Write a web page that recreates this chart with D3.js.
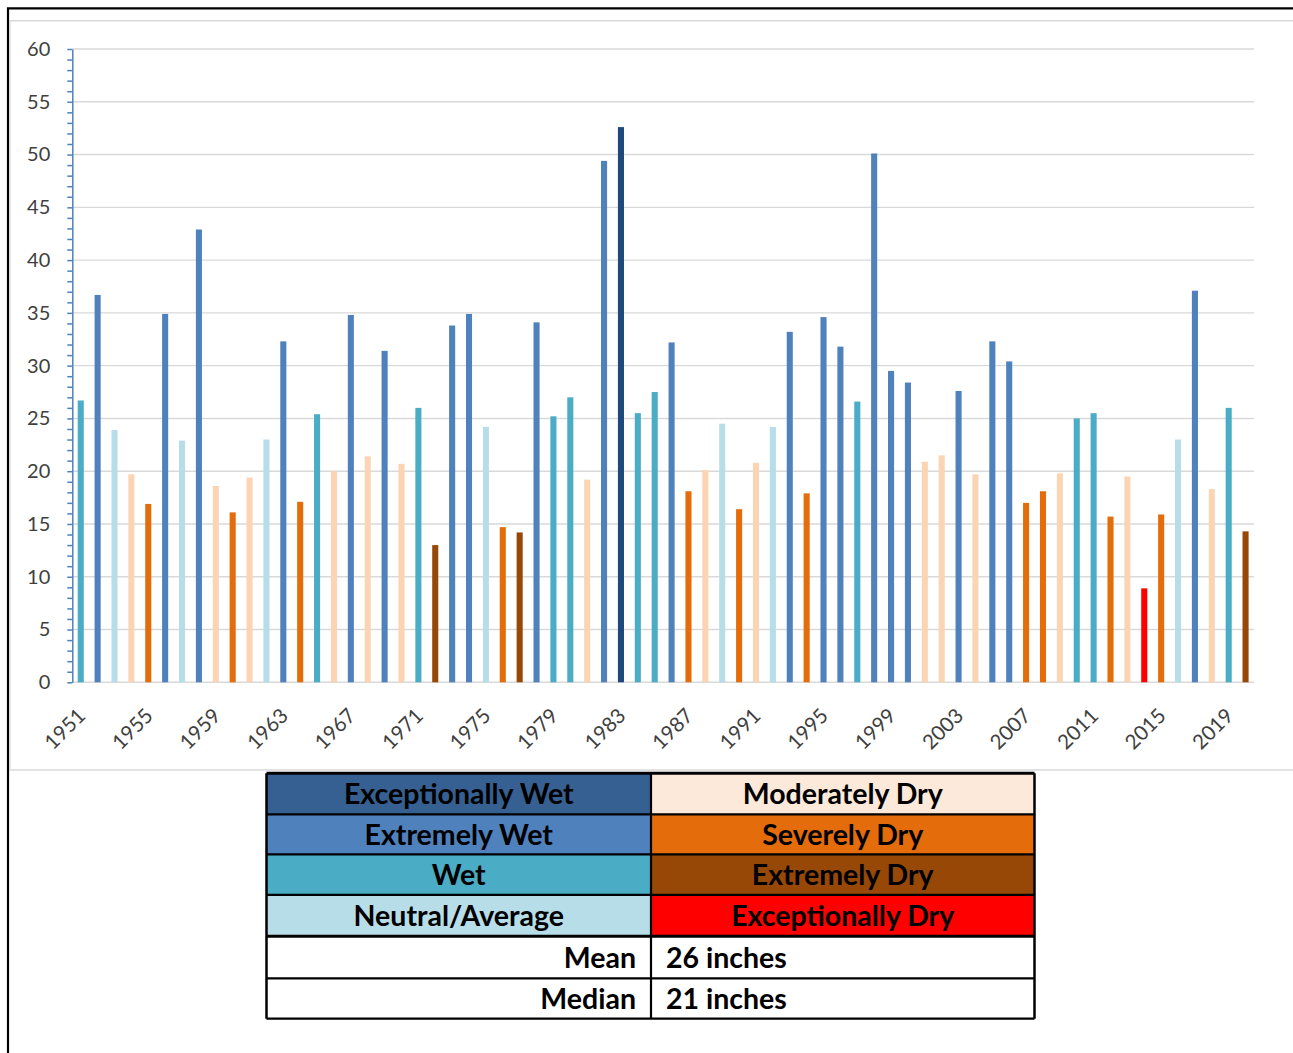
<!DOCTYPE html>
<html>
<head>
<meta charset="utf-8">
<script src="https://cdn.jsdelivr.net/npm/d3@7"></script>
<style>
    body { margin: 0; background: #fff; }
    svg { display: block; }
</style>
</head>
<body>
<div id="precipChart"></div>
<script>
// Annual precipitation (inches) and drought/wet category per year
var years = d3.range(1951, 2021);

var precip = [
    26.7, 36.7, 23.9, 19.7, 16.9, 34.9, 22.9, 42.9, 18.6, 16.1,
    19.4, 23.0, 32.3, 17.1, 25.4, 20.0, 34.8, 21.4, 31.4, 20.7,
    26.0, 13.0, 33.8, 34.9, 24.2, 14.7, 14.2, 34.1, 25.2, 27.0,
    19.2, 49.4, 52.6, 25.5, 27.5, 32.2, 18.1, 20.1, 24.5, 16.4,
    20.8, 24.2, 33.2, 17.9, 34.6, 31.8, 26.6, 50.1, 29.5, 28.4,
    20.9, 21.5, 27.6, 19.7, 32.3, 30.4, 17.0, 18.1, 19.8, 25.0,
    25.5, 15.7, 19.5, 8.9, 15.9, 23.0, 37.1, 18.3, 26.0, 14.3
];

var categories = [
    "Wet", "Extremely Wet", "Neutral/Average", "Moderately Dry", "Severely Dry",
    "Extremely Wet", "Neutral/Average", "Extremely Wet", "Moderately Dry", "Severely Dry",
    "Moderately Dry", "Neutral/Average", "Extremely Wet", "Severely Dry", "Wet",
    "Moderately Dry", "Extremely Wet", "Moderately Dry", "Extremely Wet", "Moderately Dry",
    "Wet", "Extremely Dry", "Extremely Wet", "Extremely Wet", "Neutral/Average",
    "Severely Dry", "Extremely Dry", "Extremely Wet", "Wet", "Wet",
    "Moderately Dry", "Extremely Wet", "Exceptionally Wet", "Wet", "Wet",
    "Extremely Wet", "Severely Dry", "Moderately Dry", "Neutral/Average", "Severely Dry",
    "Moderately Dry", "Neutral/Average", "Extremely Wet", "Severely Dry", "Extremely Wet",
    "Extremely Wet", "Wet", "Extremely Wet", "Extremely Wet", "Extremely Wet",
    "Moderately Dry", "Moderately Dry", "Extremely Wet", "Moderately Dry", "Extremely Wet",
    "Extremely Wet", "Severely Dry", "Severely Dry", "Moderately Dry", "Wet",
    "Wet", "Severely Dry", "Moderately Dry", "Exceptionally Dry", "Severely Dry",
    "Neutral/Average", "Extremely Wet", "Moderately Dry", "Wet", "Extremely Dry"
];

var yTicks = d3.range(0, 61, 5);
var xTickYears = d3.range(1951, 2021, 4);

// Legend table contents
var legendWet = ["Exceptionally Wet", "Extremely Wet", "Wet", "Neutral/Average"];
var legendDry = ["Moderately Dry", "Severely Dry", "Extremely Dry", "Exceptionally Dry"];
var statLabels = ["Mean", "Median"];
var statValues = ["26 inches", "21 inches"];

var data = years.map((year, i) => ({ year: year, value: precip[i], category: categories[i] }));

renderChart();

function renderChart() {
    var width = 1293, height = 1053;
    var plot = { left: 72.3, right: 1254, top: 49, bottom: 682.3 };

    var svg = d3.select("#precipChart")
        .html("")
        .append("svg")
        .attr("width", width)
        .attr("height", height);

    // Bar colours and legend cell colours
    var barColor = d3.scaleOrdinal()
        .domain(legendWet.concat(legendDry))
        .range(["#1f497d", "#4f81bd", "#4bacc6", "#b7dde8", "#fbd4b4", "#e46c0a", "#974806", "#ff0000"]);
    var cellColor = d3.scaleOrdinal()
        .domain(legendWet.concat(legendDry))
        .range(["#366092", "#4f81bd", "#4bacc6", "#b7dde8", "#fde9d9", "#e46c0a", "#974806", "#ff0000"]);

    // Outer black frame (cut off on right and bottom)
    svg.append("path")
        .attr("d", "M8,1053 V8.3 H1293")
        .attr("fill", "none")
        .attr("stroke", "#000")
        .attr("stroke-width", 2.2);

    // Light grey chart-area border
    svg.append("path")
        .attr("d", "M1293,20.7 H9.8 V770 H1293")
        .attr("fill", "none")
        .attr("stroke", "#d9d9d9")
        .attr("stroke-width", 1.5);

    var x = d3.scaleBand()
        .domain(years)
        .range([plot.left, plot.right])
        .paddingInner(0.64)
        .paddingOuter(0.32);

    var y = d3.scaleLinear()
        .domain([0, 60])
        .range([plot.bottom, plot.top]);

    // Horizontal gridlines
    svg.append("g")
        .selectAll("line")
        .data(yTicks)
        .enter()
        .append("line")
        .attr("x1", plot.left)
        .attr("x2", plot.right)
        .attr("y1", d => y(d))
        .attr("y2", d => y(d))
        .attr("stroke", "#d9d9d9")
        .attr("stroke-width", 1.4);

    // Bars
    svg.append("g")
        .selectAll("rect")
        .data(data)
        .enter()
        .append("rect")
        .attr("x", d => x(d.year))
        .attr("width", x.bandwidth())
        .attr("y", d => y(d.value))
        .attr("height", d => y(0) - y(d.value))
        .attr("fill", d => barColor(d.category));

    // Y axis with a tick every inch, labels every 5
    var yAxis = svg.append("g")
        .attr("transform", "translate(" + plot.left + ",0)")
        .call(d3.axisLeft(y)
            .tickValues(d3.range(0, 61, 1))
            .tickSize(5)
            .tickSizeOuter(0)
            .tickPadding(17)
            .tickFormat(d => d % 5 === 0 ? d : ""));
    yAxis.select(".domain").attr("stroke", "#4f81bd").attr("stroke-width", 1.5);
    yAxis.selectAll(".tick line").attr("stroke", "#4f81bd").attr("stroke-width", 1.5);
    yAxis.selectAll("text")
        .attr("fill", "#404040")
        .style("font-family", "Lato, 'Open Sans', sans-serif")
        .style("font-size", "20px");

    // X labels every 4 years, rotated
    svg.append("g")
        .selectAll("text")
        .data(xTickYears)
        .enter()
        .append("text")
        .attr("transform", d => "translate(" + (x(d) + x.bandwidth() / 2 + 6) + ",717)rotate(-45)")
        .style("text-anchor", "end")
        .style("font-family", "Lato, 'Open Sans', sans-serif")
        .style("font-size", "20.5px")
        .attr("fill", "#404040")
        .text(d => d);

    renderLegend(svg, cellColor);
}

// Legend drawn as a table under the chart
function renderLegend(svg, cellColor) {
    var tx0 = 266.5, tx1 = 1034.5, split = 651;
    var rowY = [773.3, 814.3, 854.3, 894.8, 936.3, 978.3, 1018.7];
    var font = "Lato, 'Open Sans', sans-serif";
    var fontSize = "28.5px";

    var table = svg.append("g");

    var rows = legendWet.map((w, i) => ({ wet: w, dry: legendDry[i], i: i }));

    rows.forEach(r => {
        table.append("rect")
            .attr("x", tx0).attr("y", rowY[r.i])
            .attr("width", split - tx0).attr("height", rowY[r.i + 1] - rowY[r.i])
            .attr("fill", cellColor(r.wet));
        table.append("rect")
            .attr("x", split).attr("y", rowY[r.i])
            .attr("width", tx1 - split).attr("height", rowY[r.i + 1] - rowY[r.i])
            .attr("fill", cellColor(r.dry));
        var cy = (rowY[r.i] + rowY[r.i + 1]) / 2;
        table.append("text")
            .attr("x", (tx0 + split) / 2).attr("y", cy).attr("dy", "0.36em")
            .style("text-anchor", "middle")
            .style("font-family", font).style("font-size", fontSize).style("font-weight", "bold")
            .attr("fill", "#000")
            .text(r.wet);
        table.append("text")
            .attr("x", (split + tx1) / 2).attr("y", cy).attr("dy", "0.36em")
            .style("text-anchor", "middle")
            .style("font-family", font).style("font-size", fontSize).style("font-weight", "bold")
            .attr("fill", "#000")
            .text(r.dry);
    });

    statLabels.forEach((label, i) => {
        var r0 = rowY[4 + i], r1 = rowY[5 + i];
        var cy = (r0 + r1) / 2;
        table.append("text")
            .attr("x", split - 15).attr("y", cy).attr("dy", "0.36em")
            .style("text-anchor", "end")
            .style("font-family", font).style("font-size", fontSize).style("font-weight", "bold")
            .text(label);
        table.append("text")
            .attr("x", split + 15).attr("y", cy).attr("dy", "0.36em")
            .style("text-anchor", "start")
            .style("font-family", font).style("font-size", fontSize).style("font-weight", "bold")
            .text(statValues[i]);
    });

    // Cell borders
    rowY.forEach((yy, i) => {
        table.append("line")
            .attr("x1", tx0).attr("x2", tx1).attr("y1", yy).attr("y2", yy)
            .attr("stroke", "#000").attr("stroke-width", (i === 0 || i === 4) ? 3 : 2.2);
    });
    table.append("line")
        .attr("x1", split).attr("x2", split).attr("y1", rowY[0]).attr("y2", rowY[6])
        .attr("stroke", "#000").attr("stroke-width", 2.2);
    table.append("line")
        .attr("x1", tx0).attr("x2", tx0).attr("y1", rowY[0]).attr("y2", rowY[6])
        .attr("stroke", "#000").attr("stroke-width", 2.5);
    table.append("line")
        .attr("x1", tx1).attr("x2", tx1).attr("y1", rowY[0]).attr("y2", rowY[6])
        .attr("stroke", "#000").attr("stroke-width", 2.5);
}
</script>
</body>
</html>
